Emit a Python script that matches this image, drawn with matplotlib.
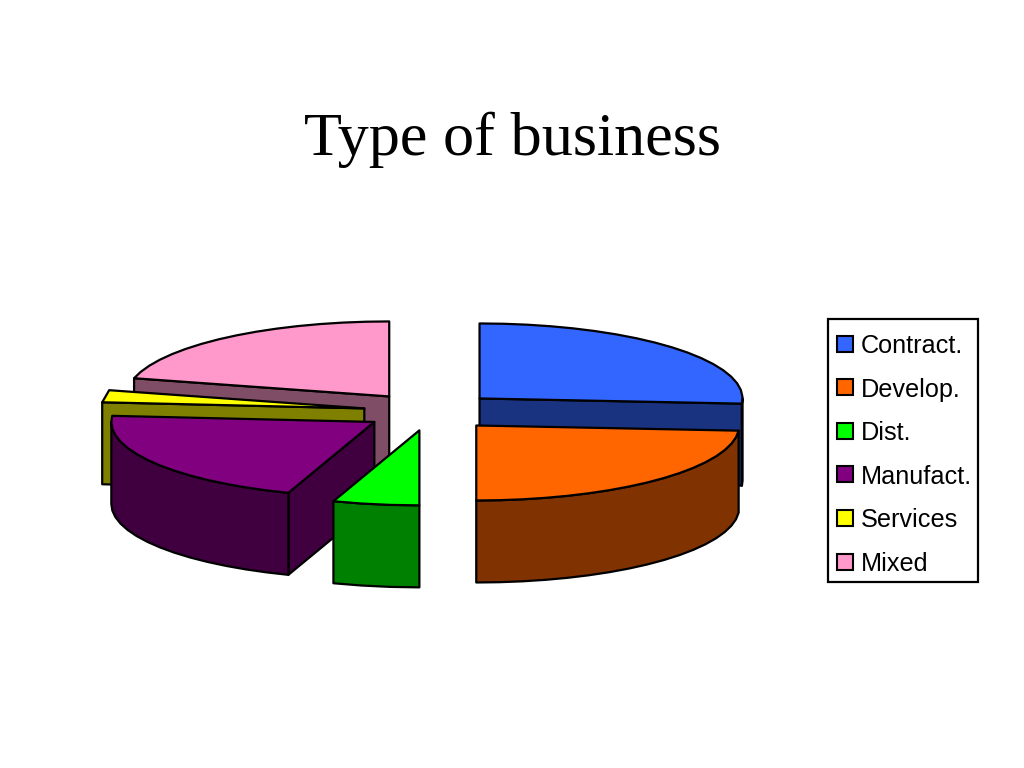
"""Exploded 3-D pie, type of business (projected by hand, pixel-like axes)."""
import numpy as np
import matplotlib
matplotlib.use("Agg")
import matplotlib.pyplot as plt
from matplotlib.patches import Polygon, Rectangle
from matplotlib.colors import to_rgb

labels = ["Contract.", "Develop.", "Dist.", "Manufact.", "Services", "Mixed"]
shares = [26.1, 23.9, 5.3, 21.0, 2.6, 21.1]
colors = ["#3366FF", "#FF6600", "#00FF00", "#800080", "#FFFF00", "#FF99CC"]

# projection of the pie onto the page
CX, CY = 430.5, 411.5
RX, RY = 263.0, 75.0
DEPTH = 82.0
EXPLODE = 0.255
STEP = 5.0
LW = 1.6


def rim(cx, cy, t0, t1):
    n = max(int(abs(t1 - t0) / STEP), 1) + 1
    t = np.radians(np.linspace(t0, t1, n))
    return np.column_stack([cx + RX * np.sin(t), cy - RY * np.cos(t)])


def down(pts):
    return pts + np.array([0.0, DEPTH])


def face(ax, pts, col):
    ax.add_patch(Polygon(pts, closed=True, fc=col, ec="black", lw=LW,
                         joinstyle="round"))


def draw_slice(ax, t0, t1, col):
    mid = np.radians((t0 + t1) / 2)
    cx = CX + EXPLODE * RX * np.sin(mid)
    cy = CY - EXPLODE * RY * np.cos(mid)
    dark = tuple(c * 0.5 for c in to_rgb(col))
    apex = np.array([[cx, cy]])

    # only the cut faces turned towards the viewer
    if np.cos(np.radians(t0 - 270)) > 1e-6:
        edge = np.vstack([apex, rim(cx, cy, t0, t0)[:1]])
        face(ax, np.vstack([edge, down(edge)[::-1]]), dark)
    if np.cos(np.radians(t1 - 90)) > 1e-6:
        edge = np.vstack([apex, rim(cx, cy, t1, t1)[:1]])
        face(ax, np.vstack([edge, down(edge)[::-1]]), dark)

    a, b = max(t0, 90.0), min(t1, 270.0)
    if b > a:
        arc = rim(cx, cy, a, b)
        face(ax, np.vstack([arc, down(arc)[::-1]]), dark)

    face(ax, np.vstack([apex, rim(cx, cy, t0, t1)]), col)


def draw_legend(ax):
    ax.add_patch(Rectangle((828, 319), 150, 263, fc="white", ec="black", lw=1.6))
    for i, (lab, col) in enumerate(zip(labels, colors)):
        y = 343.5 + 43.6 * i
        ax.add_patch(Rectangle((837, y - 8), 15.5, 16, fc=col, ec="black", lw=1.5))
        ax.text(861, y + 9.5, lab, ha="left", va="baseline",
                family="Liberation Sans", fontsize=18.2)


def main():
    fig = plt.figure(figsize=(10.24, 7.68), dpi=100)
    ax = fig.add_axes([0, 0, 1, 1])
    ax.set_xlim(0, 1024)
    ax.set_ylim(768, 0)
    ax.axis("off")

    edges = np.concatenate([[0.0], np.cumsum(shares)]) * 3.6
    # painter's order: back slices first, then round to the front
    for i in [5, 4, 3, 2, 0, 1]:
        draw_slice(ax, edges[i], edges[i + 1], colors[i])

    ax.text(512, 155, "Type of business", ha="center", va="baseline",
            family="Liberation Serif", fontsize=44.8)

    draw_legend(ax)
    fig.savefig("out.png", dpi=100, facecolor="white")


if __name__ == "__main__":
    main()
